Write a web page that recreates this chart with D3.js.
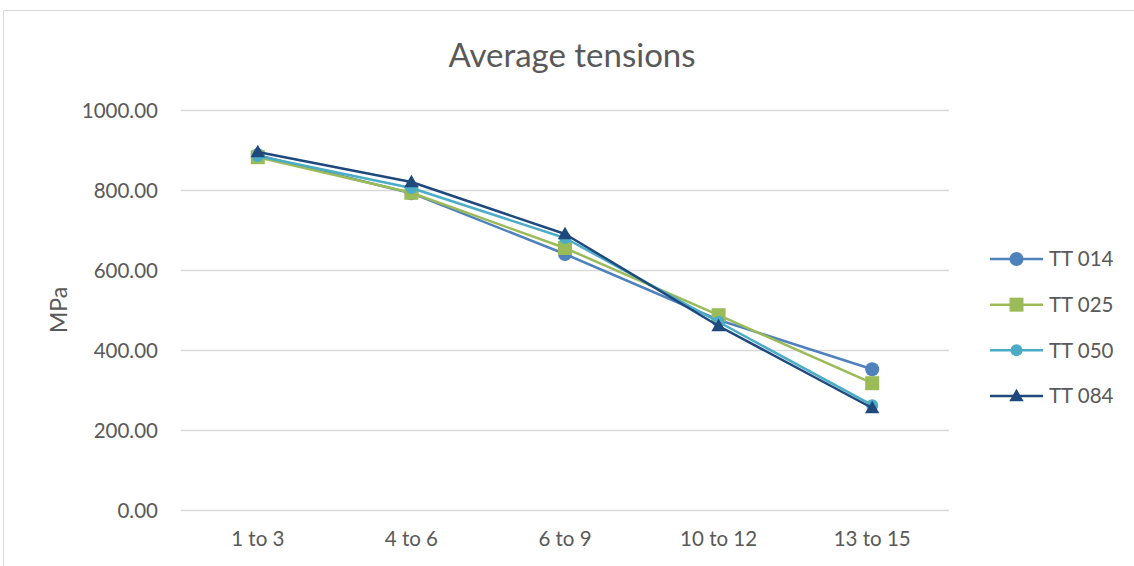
<!DOCTYPE html>
<html>
<head>
<meta charset="utf-8">
<script src="https://cdn.jsdelivr.net/npm/d3@7"></script>
<style>
  html, body { margin: 0; padding: 0; background: #fff; }
  svg { display: block; font-family: Lato, "Open Sans", sans-serif; }
</style>
</head>
<body>
<svg id="chart" width="1134" height="566"></svg>
<script>
// Zones along the specimen and the average tension (MPa) in each
const categories = ["1 to 3", "4 to 6", "6 to 9", "10 to 12", "13 to 15"];
const seriesNames = ["TT 014", "TT 025", "TT 050", "TT 084"];
const tt014 = [887, 792, 640, 475, 352];
const tt025 = [882, 793, 655, 487, 317];
const tt050 = [885, 805, 680, 470, 262];
const tt084 = [895, 820, 690, 460, 255];
const yTicks = [0, 200, 400, 600, 800, 1000];

const series = [
  { name: seriesNames[0], values: tt014, color: "#4F81BD", marker: "circle", size: 7 },
  { name: seriesNames[1], values: tt025, color: "#9BBB59", marker: "square", size: 7 },
  { name: seriesNames[2], values: tt050, color: "#4BACC6", marker: "circle", size: 6 },
  { name: seriesNames[3], values: tt084, color: "#1F497D", marker: "triangle", size: 7 }
];

const svg = d3.select("#chart");

// Chart area frame
svg.append("rect")
  .attr("x", 3.5).attr("y", 10.5)
  .attr("width", 1140).attr("height", 570)
  .attr("fill", "none").attr("stroke", "#d9d9d9").attr("stroke-width", 1);

const x = d3.scaleBand().domain(categories).range([181, 949]);
const y = d3.scaleLinear().domain([0, 1000]).range([510, 110]);

// Horizontal gridlines
svg.append("g").selectAll("line").data(yTicks).join("line")
  .attr("x1", 181).attr("x2", 949)
  .attr("y1", d => y(d) + 0.5).attr("y2", d => y(d) + 0.5)
  .attr("stroke", "#d9d9d9").attr("stroke-width", 1.3);

// Y axis labels
const yAxis = d3.axisLeft(y).tickValues(yTicks).tickFormat(d3.format(".2f")).tickSize(0).tickPadding(0);
const gy = svg.append("g").attr("transform", "translate(158,0)").call(yAxis);
gy.select(".domain").remove();
gy.selectAll("text").attr("font-size", 20.5).attr("fill", "#595959")
  .attr("font-family", "Lato, sans-serif").attr("dy", "0.35em");

// X axis labels
const xAxis = d3.axisBottom(x).tickSize(0).tickPadding(0);
const gx = svg.append("g").attr("transform", "translate(0,531)").call(xAxis);
gx.select(".domain").remove();
gx.selectAll("text").attr("font-size", 20.5).attr("fill", "#595959")
  .attr("font-family", "Lato, sans-serif").attr("dy", "0.71em");

// Title
svg.append("text").attr("x", 572).attr("y", 67).attr("text-anchor", "middle")
  .attr("font-size", 33).attr("fill", "#595959").text("Average tensions");

// Y axis title
svg.append("text").attr("transform", "translate(67,310) rotate(-90)")
  .attr("text-anchor", "middle").attr("font-size", 23).attr("fill", "#595959").text("MPa");

const cx = c => x(c) + x.bandwidth() / 2;

function drawMarker(g, s, px, py) {
  if (s.marker === "circle") {
    g.append("circle").attr("cx", px).attr("cy", py).attr("r", s.size).attr("fill", s.color);
  } else if (s.marker === "square") {
    g.append("rect").attr("x", px - s.size).attr("y", py - s.size)
      .attr("width", s.size * 2).attr("height", s.size * 2).attr("fill", s.color);
  } else {
    const sym = d3.symbol().type(d3.symbolTriangle).size(90);
    g.append("path").attr("d", sym()).attr("transform", `translate(${px},${py + 1})`).attr("fill", s.color);
  }
}

const line = d3.line().x((d, i) => cx(categories[i])).y(d => y(d));

series.forEach(s => {
  const g = svg.append("g");
  g.append("path").datum(s.values).attr("d", line)
    .attr("fill", "none").attr("stroke", s.color).attr("stroke-width", 2.5)
    .attr("stroke-linejoin", "round");
  s.values.forEach((v, i) => drawMarker(g, s, cx(categories[i]), y(v)));
});

// Legend
const legendY = d3.scalePoint().domain(seriesNames).range([259, 396]);
series.forEach(s => {
  const ly = legendY(s.name);
  const g = svg.append("g");
  g.append("line").attr("x1", 990).attr("x2", 1043).attr("y1", ly).attr("y2", ly)
    .attr("stroke", s.color).attr("stroke-width", 2.5);
  drawMarker(g, s, 1016.5, ly);
  g.append("text").attr("x", 1049).attr("y", ly).attr("dy", "0.35em")
    .attr("font-size", 20.5).attr("fill", "#595959").text(s.name);
});
</script>
</body>
</html>
